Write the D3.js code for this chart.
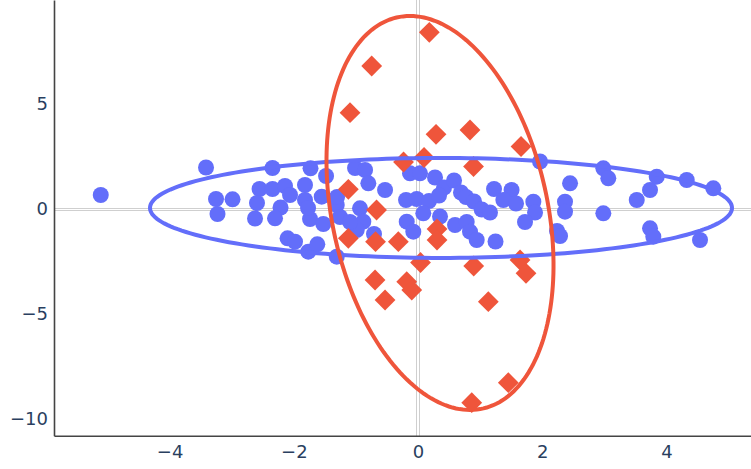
<!DOCTYPE html>
<html><head><meta charset="utf-8">
<script src="https://cdn.jsdelivr.net/npm/d3@7/dist/d3.min.js"></script>
<style>body{margin:0;background:#fff;}svg{display:block;}</style>
</head><body>
<svg id="chart" width="751" height="469"></svg>
<script>
// ---- data ----
const blueX = [-5.109,-3.414,-3.253,-2.987,-3.229,-2.343,-2.552,-2.343,-2.142,-2.061,-2.593,-2.625,-2.214,-2.303,-2.101,-1.981,
  -1.731,-1.481,-1.014,-0.853,-1.820,-1.820,-1.551,-1.739,-1.525,-1.309,-1.256,-0.934,-0.881,-0.987,-1.767,-1.622,-1.309,-0.800,
  -1.771,-0.709,-0.531,-0.193,-0.021,0.177,0.274,0.419,0.338,0.580,0.692,0.773,0.902,1.026,1.159,1.224,1.506,1.374,1.578,1.857,
  1.884,1.723,-0.129,0.032,0.085,0.354,-0.182,-0.076,0.596,0.784,0.837,0.945,1.248,1.965,2.448,2.367,2.367,2.238,2.287,2.984,
  3.064,2.984,3.522,3.736,3.844,3.736,3.789,4.327,4.755,4.541,-1.304,-1.095];
const blueY = [0.667,1.976,0.476,0.462,-0.238,1.952,0.952,0.952,1.095,0.667,0.286,-0.452,0.071,-0.443,-1.395,-1.557,
  1.938,1.571,1.952,1.857,1.143,0.429,0.586,-0.476,-0.714,0.190,-0.381,0.033,-0.605,-1.000,-2.033,-1.681,-2.271,1.224,
  0.048,-1.190,0.905,0.429,0.476,0.381,1.500,1.024,0.643,1.357,0.786,0.571,0.357,-0.024,-0.167,0.952,0.905,0.429,0.262,0.348,
  -0.167,-0.619,1.700,1.700,-0.205,-0.357,-0.605,-1.081,-0.762,-0.619,-1.081,-1.476,-1.548,2.262,1.224,0.348,-0.129,-1.048,-1.286,1.938,
  1.462,-0.205,0.429,0.905,1.538,-0.919,-1.319,1.381,0.986,-1.476,0.571,-0.619];
const redX = [-1.095,0.290,0.837,1.659,-0.233,0.097,0.894,-1.122,-0.668,-1.122,-0.684,-0.317,0.306,0.306,0.040,0.897,
  1.643,1.739,-0.692,-0.182,-0.101,-0.531,1.132,1.454,0.865,0.182,-0.746];
const redY = [4.586,3.557,3.762,2.976,2.238,2.452,2.024,0.938,-0.048,-1.395,-1.557,-1.557,-0.952,-1.476,-2.548,-2.714,
  -2.429,-3.062,-3.381,-3.462,-3.857,-4.333,-4.414,-8.271,-9.224,8.414,6.810];
// ellipse parameters: center, and x/y components of the two conjugate radius vectors
const blueEllipse = {cx:0.37, cy:0.05, ax:0, ay:2.38, bx:4.686, by:0};
const redEllipse  = {cx:0.354, cy:-0.19, ax:-0.483, ay:9.38, bx:1.763, by:0};
const xTicks = [-4,-2,0,2,4];
const yTicks = [-10,-5,0,5];
const xDomain = [-5.862, 5.362];
const yDomain = [-10.795, 9.952];

// ---- layout ----
const W = 751, H = 469;
const mLeft = 54, mRight = 751, mTop = 0, mBottom = 435.7;
const svg = d3.select('#chart');
svg.append('rect').attr('width',W).attr('height',H).attr('fill','#fff');
const x = d3.scaleLinear().domain(xDomain).range([mLeft,mRight]);
const y = d3.scaleLinear().domain(yDomain).range([mBottom,mTop]);
const blue = '#636efa', red = '#ef553b';

// zero lines (doubled thin light lines)
const zl = svg.append('g').attr('stroke','#cfcfcf').attr('stroke-width',1).attr('shape-rendering','crispEdges');
const x0 = Math.round(x(0)), y0 = Math.round(y(0));
[[-1.5],[1.5]].forEach(([o])=>{
  zl.append('line').attr('x1',x0+o).attr('x2',x0+o).attr('y1',mTop).attr('y2',mBottom);
});
[-0.5,1.5].forEach(o=>{
  zl.append('line').attr('y1',y0+o).attr('y2',y0+o).attr('x1',mLeft).attr('x2',mRight);
});

// axes
const fmt = d3.format('');
const xAxis = svg.append('g').attr('transform',`translate(0,${mBottom})`)
  .call(d3.axisBottom(x).tickValues(xTicks).tickSize(0).tickPadding(10).tickFormat(fmt));
const yAxis = svg.append('g').attr('transform',`translate(${mLeft},0)`)
  .call(d3.axisLeft(y).tickValues(yTicks).tickSize(0).tickPadding(6).tickFormat(fmt));
[xAxis,yAxis].forEach(a=>{
  a.select('.domain').attr('stroke','#444').attr('stroke-width',1.6);
  a.selectAll('text').attr('fill','#2a3f5f').style('font-family','"DejaVu Sans", sans-serif').style('font-size','18px');
});

// markers
const plot = svg.append('g');
plot.selectAll('circle.b').data(blueX.map((v,i)=>[v,blueY[i]])).enter().append('circle')
  .attr('cx',d=>x(d[0])).attr('cy',d=>y(d[1])).attr('r',8).attr('fill',blue);
const rd = 10.4;
plot.selectAll('path.r').data(redX.map((v,i)=>[v,redY[i]])).enter().append('path')
  .attr('transform',d=>`translate(${x(d[0])},${y(d[1])})`)
  .attr('d',`M${rd},0L0,${rd}L${-rd},0L0,${-rd}Z`).attr('fill',red);

// ellipses
function ellipsePts(e){
  return d3.range(0,200).map(i=>{const t=i/200*2*Math.PI;
    return [e.cx+e.ax*Math.cos(t)+e.bx*Math.sin(t), e.cy+e.ay*Math.cos(t)+e.by*Math.sin(t)];});
}
const line = d3.line().x(d=>x(d[0])).y(d=>y(d[1])).curve(d3.curveLinearClosed);
svg.append('path').attr('d',line(ellipsePts(blueEllipse))).attr('fill','none').attr('stroke',blue).attr('stroke-width',4);
svg.append('path').attr('d',line(ellipsePts(redEllipse))).attr('fill','none').attr('stroke',red).attr('stroke-width',4);
</script>
</body></html>
